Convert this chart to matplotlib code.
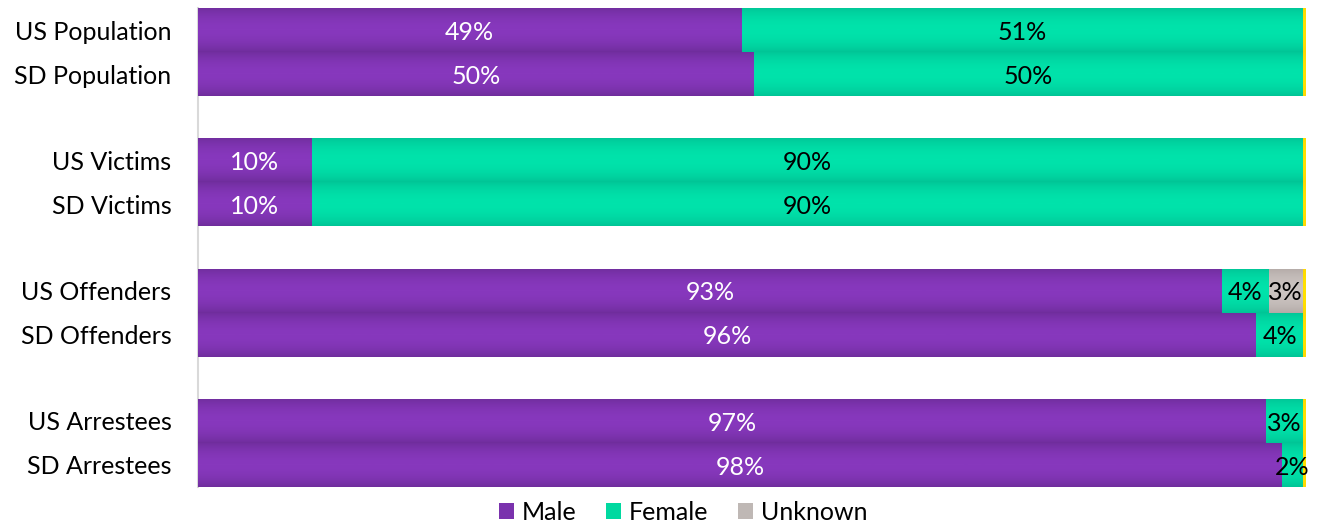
import numpy as np
import matplotlib
matplotlib.use("Agg")
import matplotlib.pyplot as plt
from matplotlib.colors import LinearSegmentedColormap
from matplotlib.patches import Patch

plt.rcParams['font.family'] = ['Lato', 'DejaVu Sans']

categories = ["US Population", "SD Population", "US Victims", "SD Victims",
              "US Offenders", "SD Offenders", "US Arrestees", "SD Arrestees"]
male = [49.2, 50.3, 10.3, 10.3, 92.7, 95.8, 96.7, 98.1]
female = [50.8, 49.7, 89.7, 89.7, 4.2, 4.2, 3.3, 1.9]
unknown = [0, 0, 0, 0, 3.1, 0, 0, 0]
other = [0.2, 0.2, 0.2, 0.2, 0.2, 0.2, 0.2, 0.2]

series = [
    ("Male", male, ("#6f2d9c", "#8738bd"), "white"),
    ("Female", female, ("#00c596", "#00e3ab"), "black"),
    ("Unknown", unknown, ("#b3aaa7", "#cbc4c1"), "black"),
    (None, other, ("#ffd700", "#ffe100"), "black"),
]

# group layout: pairs of adjacent bars, gaps between groups
pos = []
for g in range(4):
    pos += [g * 2.96, g * 2.96 + 1]
pos = np.array(pos)

fig = plt.figure(figsize=(13.22, 5.23), dpi=100)
ax = fig.add_axes([198 / 1322, 1 - 487 / 523, 1107 / 1322, 479 / 523])

left = np.zeros(len(categories))
t = np.linspace(0, 1, 64)
profile = np.sin(np.pi * t) ** 0.8
for name, vals, (dark, light), tcol in series:
    vals = np.array(vals, dtype=float)
    bars = ax.barh(pos, vals, left=left, height=1.0, color=light, edgecolor='none', zorder=2)
    cmap = LinearSegmentedColormap.from_list("g", [dark, light])
    for b, v, l in zip(bars, vals, left):
        if v <= 0:
            continue
        x0, y0 = b.get_x(), b.get_y()
        w, h = b.get_width(), b.get_height()
        im = ax.imshow(profile[:, None], cmap=cmap, aspect='auto',
                       extent=[x0, x0 + w, y0 + h, y0], zorder=3, vmin=0, vmax=1,
                       interpolation='bilinear')
        im.set_clip_path(b)
        if name is not None:
            ax.text(l + v / 2, b.get_y() + h / 2 + 0.05, f"{round(v)}%", ha='center', va='center',
                    color=tcol, fontsize=18, zorder=5)
    left = left + vals

ax.set_xlim(0, 100.2)
ax.set_ylim(pos[-1] + 0.5, -0.5)
ax.set_yticks(pos)
ax.set_yticklabels(categories, fontsize=18)
ax.set_xticks([])
ax.tick_params(axis='y', length=0, pad=19)
for s in ['top', 'right', 'bottom']:
    ax.spines[s].set_visible(False)
ax.spines['left'].set_color('#d9d9d9')
ax.spines['left'].set_linewidth(1.5)
ax.spines['left'].set_zorder(1)

handles = [Patch(facecolor="#7a32ad", label="Male"),
           Patch(facecolor="#00d9a0", label="Female"),
           Patch(facecolor="#bfb8b5", label="Unknown")]
fig.legend(handles=handles, loc='center', bbox_to_anchor=(683 / 1322, 1 - 512 / 523),
           ncol=3, frameon=False, fontsize=18, handlelength=0.6, handleheight=0.6,
           handletextpad=0.3, columnspacing=1.2, borderaxespad=0)

fig.savefig("out.png", dpi=100)
